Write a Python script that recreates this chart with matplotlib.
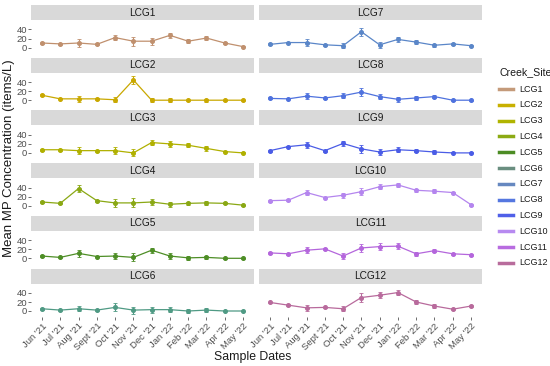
import matplotlib
matplotlib.use("Agg")
import matplotlib.pyplot as plt
from matplotlib.lines import Line2D
import numpy as np

plt.rcParams['font.family'] = ['Liberation Sans', 'DejaVu Sans']

# Sample months (discrete x axis)
months = ["Jun '21", "Jul '21", "Aug '21", "Sept '21", "Oct '21", "Nov '21",
          "Dec '21", "Jan '22", "Feb '22", "Mar '22", "Apr '22", "May '22"]

sites = ["LCG1", "LCG2", "LCG3", "LCG4", "LCG5", "LCG6",
         "LCG7", "LCG8", "LCG9", "LCG10", "LCG11", "LCG12"]

# Mean MP concentration (items/L) per site
lcg1 = [10, 8, 10, 7, 22, 14, 14, 27, 14, 21, 10, 2]
lcg2 = [11, 3, 3, 3, 1, 45, 0, 0, 0, 0, 0, 0]
lcg3 = [7, 7, 5, 5, 5, 0, 23, 20, 17, 10, 3, 0]
lcg4 = [8, 5, 38, 11, 6, 6, 8, 3, 5, 6, 5, 1]
lcg5 = [5, 2, 11, 4, 5, 2, 18, 5, 1, 2, 0, 0]
lcg6 = [5, 2, 5, 2, 8, 2, 3, 3, 0, 2, 0, 0]
lcg7 = [7, 11, 11, 6, 4, 35, 6, 18, 12, 5, 8, 4]
lcg8 = [4, 3, 9, 5, 10, 18, 8, 2, 5, 8, 0, 0]
lcg9 = [5, 14, 18, 5, 21, 9, 2, 7, 5, 2, 0, 0]
lcg10 = [11, 12, 29, 18, 23, 31, 42, 46, 34, 32, 29, 2]
lcg11 = [12, 10, 18, 21, 5, 23, 26, 27, 10, 17, 10, 8]
lcg12 = [19, 13, 7, 8, 5, 30, 35, 41, 20, 11, 4, 11]

# Standard errors (half length of error bars)
err1 = [2, 2, 8, 2, 6, 10, 8, 5, 5, 4, 2, 1]
err2 = [2, 1, 6, 2, 5, 8, 4, 5, 1, 3, 1, 1]
err3 = [2, 2, 8, 2, 7, 8, 6, 6, 5, 5, 2, 1]
err4 = [2, 1, 8, 2, 8, 10, 6, 6, 4, 4, 2, 1]
err5 = [2, 1, 8, 2, 7, 9, 6, 6, 4, 4, 1, 1]
err6 = [2, 1, 6, 2, 9, 8, 7, 6, 5, 4, 1, 1]
err7 = [2, 2, 7, 2, 5, 9, 6, 5, 4, 3, 2, 1]
err8 = [2, 1, 7, 2, 5, 8, 6, 6, 4, 4, 1, 1]
err9 = [2, 2, 7, 2, 5, 9, 7, 5, 4, 4, 1, 1]
err10 = [2, 2, 6, 2, 5, 8, 6, 5, 4, 4, 2, 2]
err11 = [2, 2, 7, 2, 6, 8, 7, 6, 4, 4, 2, 2]
err12 = [2, 2, 6, 2, 6, 9, 7, 6, 4, 4, 2, 2]

means = [lcg1, lcg2, lcg3, lcg4, lcg5, lcg6, lcg7, lcg8, lcg9, lcg10, lcg11, lcg12]
errs = [err1, err2, err3, err4, err5, err6, err7, err8, err9, err10, err11, err12]

colors = ['#C0906E', '#C9A800', '#B0B000', '#8AA814', '#4E8E26', '#4F9A84',
          '#5A86C8', '#4F72DE', '#4A5CE6', '#B485EE', '#B466DC', '#B86A9C']
legend_colors = ['#C49A7A', '#C8B000', '#B0B400', '#8CAA14', '#4C8C24', '#6A8E80',
                 '#6688C0', '#5577E0', '#5060E8', '#B78AF0', '#B86CE0', '#B86C9C']

W, H = 550, 366
fig = plt.figure(figsize=(W / 100, H / 100), dpi=100)

col_x = [31, 259]
panel_w = 223
row_top0 = 5
row_pitch = 52.7
strip_h = 15
panel_h = 33.3
x = np.arange(len(months))

for i, site in enumerate(sites):
    col = i // 6
    row = i % 6
    top = row_top0 + row * row_pitch
    # strip
    sax = fig.add_axes([col_x[col] / W, 1 - (top + strip_h) / H, panel_w / W, strip_h / H])
    sax.set_facecolor('#D9D9D9')
    sax.set_xticks([])
    sax.set_yticks([])
    for s in sax.spines.values():
        s.set_visible(False)
    sax.text(0.5, 0.5, site, ha='center', va='center', fontsize=7.3, color='#1A1A1A',
             transform=sax.transAxes)

    # panel
    ptop = top + strip_h + 0.5
    ax = fig.add_axes([col_x[col] / W, 1 - (ptop + panel_h) / H, panel_w / W, panel_h / H])
    ax.errorbar(x, means[i], yerr=errs[i], color=colors[i], marker='o', markersize=2.6,
                linewidth=0.9, elinewidth=0.8, capsize=1.2, capthick=0.6)
    ax.set_xlim(-0.6, 11.6)
    ax.set_ylim(-14, 60)
    ax.set_yticks([0, 20, 40])
    for s in ax.spines.values():
        s.set_visible(False)
    ax.tick_params(axis='both', length=2, width=0.6, color='#555555', pad=1,
                   labelsize=6.8, labelcolor='#4D4D4D')
    ax.set_xticks(x)
    if col == 1:
        ax.set_yticklabels([])
        ax.tick_params(axis='y', length=0)
    if row == 5:
        ax.set_xticklabels(months, rotation=45, ha='right', va='top',
                           rotation_mode='anchor', fontsize=6.8)
    else:
        ax.set_xticklabels([])
        ax.tick_params(axis='x', length=0)

fig.text(253 / W, 1 - 357 / H, 'Sample Dates', ha='center', va='center', fontsize=8.8,
         color='#1A1A1A')
fig.text(9 / W, 1 - 158 / H, 'Mean MP Concentration (items/L)', ha='center', va='center',
         rotation=90, fontsize=9.5, color='#1A1A1A')

# legend
fig.text(499 / W, 1 - 72 / H, 'Creek_Site', ha='left', va='center', fontsize=7.6,
         color='#1A1A1A')
for k, (site, c) in enumerate(zip(sites, legend_colors)):
    yk = 1 - (89 + k * 15.8) / H
    fig.add_artist(Line2D([499 / W, 513 / W], [yk, yk], color=c, linewidth=2.5,
                          transform=fig.transFigure))
    fig.text(519 / W, yk, site, ha='left', va='center', fontsize=6.5, color='#1A1A1A')

fig.savefig('out.png', dpi=100)
